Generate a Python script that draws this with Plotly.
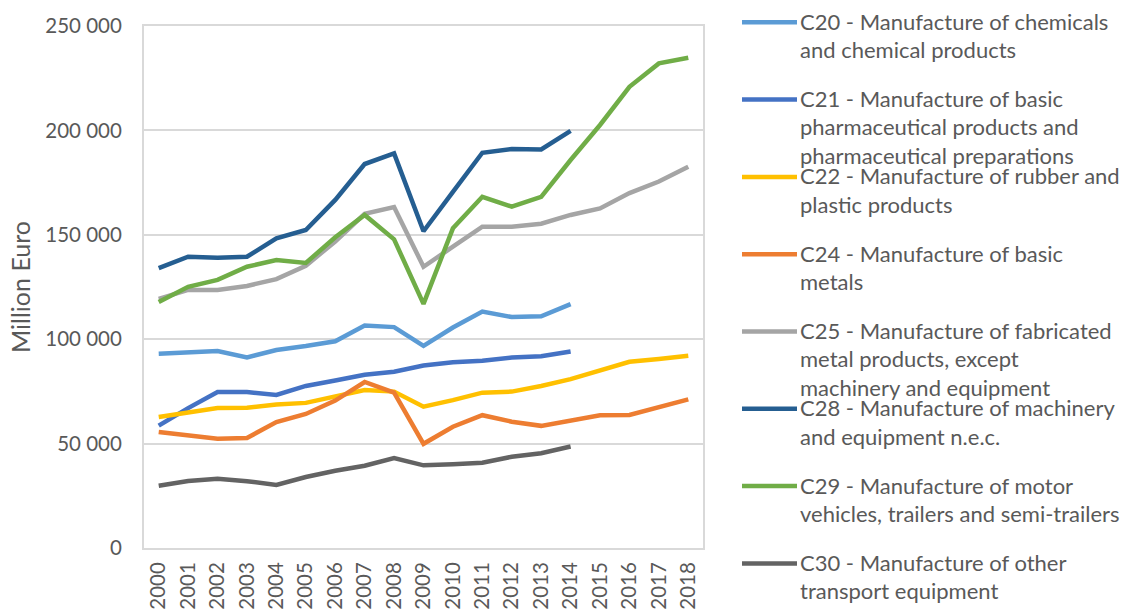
import plotly.graph_objects as go

years = [str(y) for y in range(2000, 2019)]

legend_lines = [
    ["C20 - Manufacture of chemicals", "and chemical products"],
    ["C21 - Manufacture of basic", "pharmaceutical products and", "pharmaceutical preparations"],
    ["C22 - Manufacture of rubber and", "plastic products"],
    ["C24 - Manufacture of basic", "metals"],
    ["C25 - Manufacture of fabricated", "metal products, except", "machinery and equipment"],
    ["C28 - Manufacture of machinery", "and equipment n.e.c."],
    ["C29 - Manufacture of motor", "vehicles, trailers and semi-trailers"],
    ["C30 - Manufacture of other", "transport equipment"],
]

c20 = [93000, 93500, 94300, 91300, 94800, 96700, 99000, 106600, 105800, 96800,
       105600, 113200, 110600, 111000, 116800, None, None, None, None]
c21 = [58600, 67000, 74700, 74700, 73300, 77600, 80200, 83000, 84400, 87400,
       89000, 89700, 91200, 91800, 94100, None, None, None, None]
c22 = [62700, 64700, 67000, 67200, 68700, 69500, 72400, 75700, 74900, 67700,
       70800, 74400, 74900, 77600, 80900, 85200, 89200, 90500, 92100]
c24 = [55600, 54200, 52300, 52700, 60300, 64200, 70600, 79500, 74400, 49900,
       58100, 63600, 60500, 58500, 61200, 63600, 63700, 67400, 71200]
c25 = [119300, 123600, 123600, 125500, 128800, 135200, 146800, 160000, 163300, 134700,
       144300, 153900, 153900, 155300, 159500, 162600, 170000, 175500, 182600]
c28 = [134000, 139500, 139000, 139500, 148300, 152300, 166700, 183900, 189000, 151700,
       170600, 189300, 191100, 190900, 199800, None, None, None, None]
c29 = [117800, 125100, 128400, 134700, 137900, 136500, 148800, 159500, 147800, 116900,
       153100, 168200, 163500, 168200, 185800, 202600, 220900, 232100, 234800]
c30 = [29800, 32100, 33200, 32000, 30200, 34000, 37000, 39400, 43100, 39600,
       40100, 40800, 43700, 45400, 48600, None, None, None, None]

values = [c20, c21, c22, c24, c25, c28, c29, c30]
colors = ["#5B9BD5", "#4472C4", "#FFC000", "#ED7D31", "#A5A5A5", "#255E91", "#70AD47", "#636363"]

y_ticks = [0, 50000, 100000, 150000, 200000, 250000]

FONT = "Lato, 'Open Sans', sans-serif"
TXT = "#595959"
GRID = "#D9D9D9"

W, H = 1130, 613
ML, MR, MT, MB = 144, 427, 26, 65
PW, PH = W - ML - MR, H - MT - MB


def px_x(px):
    return (px - ML) / PW


def px_y(py):
    return 1 - (py - MT) / PH


fig = go.Figure()
for lines, vals, col in zip(legend_lines, values, colors):
    fig.add_trace(go.Scatter(
        x=years, y=vals, name=" ".join(lines), mode="lines",
        line=dict(color=col, width=4.5),
        connectgaps=False, showlegend=False,
    ))

# manual legend (fixed slot spacing like the original)
annotations = []
shapes = []
slot0, slot_gap, line_gap = 22.3, 77.3, 28.4
for k, (lines, col) in enumerate(zip(legend_lines, colors)):
    yc = slot0 + k * slot_gap
    shapes.append(dict(
        type="line", xref="paper", yref="paper",
        x0=px_x(742), x1=px_x(797), y0=px_y(yc), y1=px_y(yc),
        line=dict(color=col, width=4.5),
    ))
    for j, t in enumerate(lines):
        annotations.append(dict(
            text=t, xref="paper", yref="paper",
            x=px_x(798), y=px_y(yc + j * line_gap - 1),
            xanchor="left", yanchor="middle", showarrow=False,
            font=dict(family=FONT, size=22, color=TXT),
        ))

fig.update_layout(
    width=W, height=H,
    margin=dict(l=ML, r=MR, t=MT, b=MB, autoexpand=False),
    paper_bgcolor="white", plot_bgcolor="white",
    separators=", ",
    font=dict(family=FONT, color=TXT, size=18),
    showlegend=False,
    annotations=annotations,
    shapes=shapes,
    xaxis=dict(
        type="category", range=[-0.5, 18.5],
        tickangle=-90, tickfont=dict(size=20.5, color=TXT),
        showgrid=False, showline=True, linecolor=GRID, linewidth=2,
        mirror=True, ticks="", zeroline=False,
        ticklabelstandoff=4, automargin=False,
    ),
    yaxis=dict(
        range=[0, 250000], tickvals=y_ticks, tickformat=",d",
        tickfont=dict(size=20.5, color=TXT),
        showgrid=True, gridcolor=GRID, gridwidth=1.5,
        showline=True, linecolor=GRID, linewidth=2, mirror=True,
        ticks="outside", ticklen=16, tickcolor="rgba(0,0,0,0)",
        zeroline=False, automargin=False,
        title=dict(text="Million Euro", font=dict(size=25, color=TXT), standoff=8),
    ),
)

fig.write_html("out.html")
